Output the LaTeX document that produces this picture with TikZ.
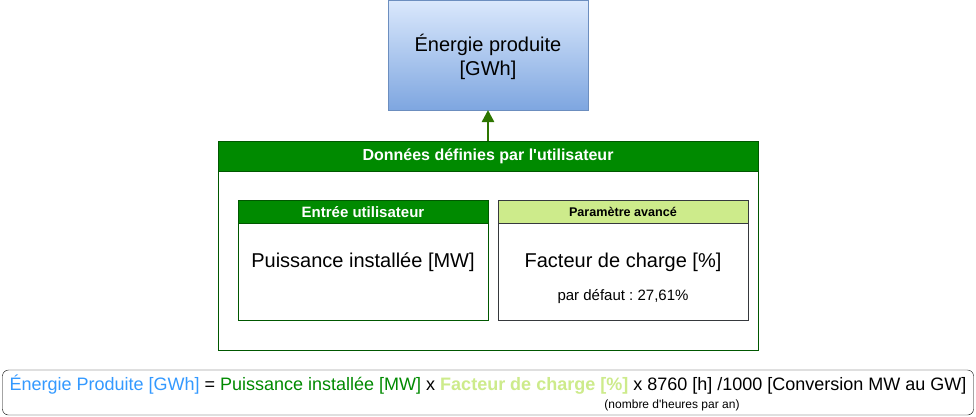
\documentclass[tikz,border=0pt]{standalone}
\usepackage{fontspec}
\setmainfont{Liberation Sans}
\newfontfamily\plainarial{Liberation Sans}
\usetikzlibrary{arrows.meta}
\definecolor{blueTop}{HTML}{DAE8FC}
\definecolor{blueBot}{HTML}{7EA6E0}
\definecolor{blueLine}{HTML}{6C8EBF}
\definecolor{hdrGreen}{HTML}{008A00}
\definecolor{hdrLine}{HTML}{005700}
\definecolor{arrGreen}{HTML}{2D7600}
\definecolor{lightGreen}{HTML}{CDEB8B}
\definecolor{grayLine}{HTML}{36393D}
\definecolor{txtBlue}{HTML}{3399FF}
\definecolor{txtGreen}{HTML}{008A00}
\tikzset{
  fbig/.style={font=\fontsize{20}{24}\selectfont},
  fform/.style={font=\fontsize{18}{21}\selectfont},
  fmid/.style={font=\fontsize{15}{18}\selectfont},
  fsmall/.style={font=\fontsize{12}{14}\selectfont},
  lbl/.style={inner sep=0pt, align=center},
}
\begin{document}
\frenchspacing
\begin{tikzpicture}[x=1pt,y=-1pt]
\useasboundingbox (0,0) rectangle (976,416);
% top box
\shade[top color=blueTop, bottom color=blueBot] (388,0.5) rectangle (588,110);
\draw[blueLine] (388,0.5) rectangle (588,110);
\node[lbl, fbig] (top) at (488,57) {Énergie produite\\{[GWh]}};
\coordinate (topB) at (488,110);
% container
\draw[hdrLine, fill=white] (218,141) rectangle (758,350);
\draw[hdrLine, fill=hdrGreen] (218,141) rectangle (758,171);
\node[lbl, text=white, font=\plainarial\bfseries\fontsize{16}{19}\selectfont] (hdr) at (488,156) {Données définies par l'utilisateur};
\coordinate (contT) at (488,141);
\draw[arrGreen, line width=2.5pt, -{Triangle[length=12pt,width=12pt]}] (contT) -- (topB);
% left inner
\draw[hdrLine, fill=white] (238,200) rectangle (488,320);
\draw[hdrLine, fill=hdrGreen] (238,200) rectangle (488,223);
\node[lbl, text=white, font=\bfseries\fontsize{15}{18}\selectfont] (lh) at (363,212) {Entrée utilisateur};
\node[lbl, fbig] (lt) at (363,262) {Puissance installée [MW]};
% right inner
\draw[grayLine, fill=white] (498,200) rectangle (748,320);
\draw[grayLine, fill=lightGreen] (498,200) rectangle (748,223);
\node[lbl, font=\bfseries\fontsize{12.6}{15}\selectfont] (rh) at (623,212) {Paramètre avancé};
\node[lbl, fbig] (rt) at (623,262) {Facteur de charge [\%]};
\node[lbl, fmid] (rd) at (623,297) {par défaut : 27,61\%};
% formula
\draw[black, rounded corners=6pt, fill=white] (2.5,370) rectangle (973.5,415);
\node[lbl, fform] (form) at (488,385) {\textcolor{txtBlue}{Énergie Produite [GWh]} = \textcolor{txtGreen}{Puissance installée [MW]} x \textcolor{lightGreen}{\textbf{Facteur de charge [\%]}} x 8760 [h] /1000 [Conversion MW au GW]};
\node[lbl, font=\plainarial\fontsize{12}{14}\selectfont] (sub) at (672,405) {(nombre d'heures par an)};
\end{tikzpicture}
\end{document}
